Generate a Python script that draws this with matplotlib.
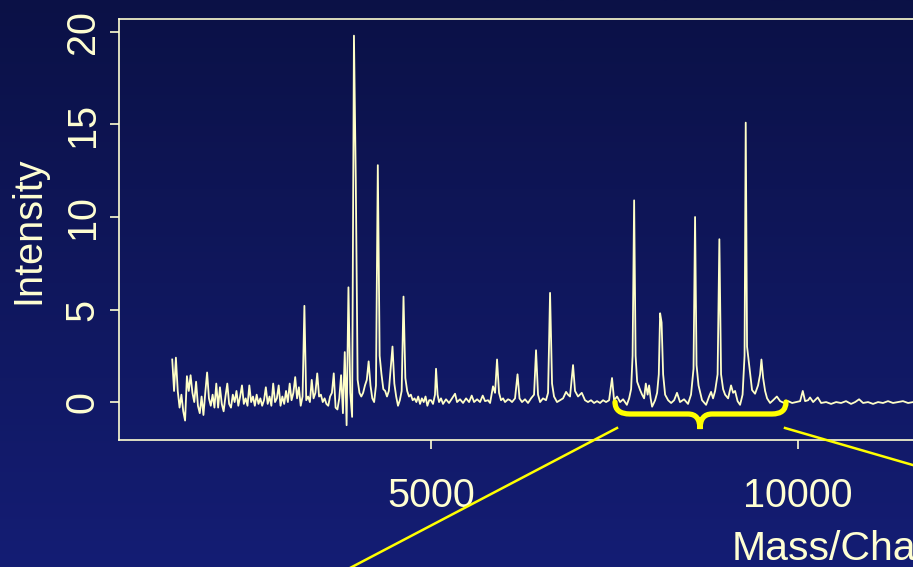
import matplotlib
matplotlib.use("Agg")
import matplotlib.pyplot as plt
import numpy as np
from matplotlib.path import Path
from matplotlib.patches import PathPatch
from matplotlib.lines import Line2D

# ------------------------------------------------------------------
# Spectrum values
# ------------------------------------------------------------------
# low-mass part: instrument grid of 25 Da, noisy
low_mz_start = 1475
low_mz_step = 25
low_intensity = [
    2.3, 0.6, 2.4, 0.6, -0.3, 0.4, -0.5, -1.0, 1.4, 0.6,
    1.45, 0.5, 0.0, 1.1, -0.2, -0.6, 0.3, -0.7, 0.5, 1.6,
    0.2, -0.2, 0.4, -0.3, 1.0, -0.3, 0.8, -0.1, -0.5, 0.3,
    1.0, -0.1, -0.3, 0.4, 0.0, 0.6, -0.2, 0.3, 0.9, -0.1,
    0.2, -0.2, 0.9, 0.0, 0.3, -0.2, 0.4, -0.1, 0.2, -0.2,
    0.1, 0.8, -0.1, 0.3, -0.2, 1.0, 0.0, 0.2, 0.9, -0.2,
    0.3, -0.1, 0.6, 0.0, 1.0, 0.1, 0.5, 1.35, 0.2, 0.8,
    -0.2, 0.3, 5.2, 0.1, 0.3, 0.0, 1.2, 0.2, 0.5, 1.55,
    0.3, 0.4, 0.0, 0.2, -0.1, -0.2, 0.3, 0.5, 1.55, -0.3,
    -0.4, 0.2, 1.45, -0.6, 2.7, -1.25, 6.2, 0.5, -0.8, 19.8,
    12.0, 1.2, 0.5, 0.3, 0.5, 0.9, 1.2, 2.2, 0.9, 0.2,
    0.0, 0.9, 12.8, 2.5, 1.5, 0.7, 0.6, 0.3, 0.6, 1.8,
    3.0, 1.0, 0.3, -0.2, 0.1, 0.6, 5.7, 1.3, 0.6, 0.3,
    0.4, 0.1, 0.2, 0.0, 0.3, -0.1, 0.2, 0.0, 0.3, -0.2,
    0.1,
]

# high-mass part: (m/z, intensity) pairs
high_mz = [
    5000, 5027, 5054, 5068, 5089, 5109, 5136, 5163, 5204, 5245,
    5286, 5327, 5354, 5395, 5436, 5477, 5518, 5554, 5586, 5627,
    5667, 5704, 5736, 5776, 5804, 5844, 5872, 5899, 5926, 5953,
    5981, 6008, 6049, 6076, 6103, 6144, 6178, 6205, 6239, 6280,
    6321, 6362, 6403, 6430, 6457, 6485, 6525, 6566, 6594, 6621,
    6648, 6675, 6716, 6757, 6798, 6839, 6866, 6893, 6934, 6961,
    7002, 7053, 7097, 7138, 7179, 7220, 7261, 7302, 7343, 7384,
    7425, 7465, 7493, 7534, 7575, 7616, 7667, 7698, 7725, 7745,
    7766, 7786, 7807, 7848, 7875, 7902, 7925, 7950, 7970, 7991,
    8011, 8052, 8079, 8102, 8120, 8140, 8161, 8188, 8229, 8270,
    8311, 8350, 8391, 8446, 8500, 8541, 8575, 8596, 8616, 8643,
    8691, 8746, 8787, 8814, 8841, 8869, 8903, 8927, 8950, 8978,
    9005, 9046, 9086, 9114, 9141, 9175, 9209, 9243, 9270, 9286,
    9304, 9345, 9372, 9413, 9454, 9482, 9500, 9523, 9550, 9577,
    9618, 9659, 9710, 9755, 9809, 9864, 9918, 9973, 10027, 10063,
    10095, 10136, 10162, 10204, 10267, 10313, 10381, 10449, 10517, 10585,
    10652, 10721, 10776, 10830, 10884, 10952, 11020, 11088, 11156, 11224,
    11292, 11360, 11428, 11497, 11565, 11660,
]
high_intensity = [
    0.1, -0.1, 0.4, 1.8, 0.4, 0.0, 0.2, -0.1, 0.15, -0.05,
    0.2, 0.45, 0.0, 0.15, -0.05, 0.2, 0.0, 0.35, 0.0, 0.15,
    0.0, 0.35, 0.05, 0.1, -0.05, 0.85, 0.5, 2.3, 0.5, 0.1,
    0.2, 0.0, 0.15, 0.1, 0.0, 0.2, 1.5, 0.2, 0.0, 0.15,
    -0.05, 0.2, 0.4, 2.8, 0.4, 0.0, 0.2, 0.1, 0.5, 5.9,
    1.0, 0.3, 0.0, 0.1, 0.2, 0.55, 0.4, 0.3, 2.0, 0.6,
    0.3, 0.5, 0.1, 0.0, 0.1, -0.05, 0.05, -0.05, 0.1, 0.0,
    0.1, 1.3, 0.1, 0.3, 0.0, 0.15, -0.15, 0.2, 0.7, 2.5,
    10.9, 2.5, 1.1, 0.65, 0.4, 0.2, 1.0, 0.4, 0.9, 0.2,
    -0.25, 0.1, 0.5, 1.5, 4.8, 4.3, 1.5, 0.4, 0.1, -0.05,
    0.1, 0.5, 0.0, 0.15, -0.1, 0.4, 1.8, 10.0, 2.0, 0.9,
    0.1, -0.15, 0.3, 0.55, 0.2, 0.6, 1.5, 8.8, 1.5, 0.7,
    0.4, 0.2, 0.9, 0.5, 0.6, 0.05, -0.15, 0.4, 2.5, 15.1,
    3.0, 1.6, 0.65, 0.45, 0.9, 1.5, 2.3, 1.3, 0.6, 0.2,
    -0.05, 0.1, 0.3, 0.05, -0.05, 0.05, -0.05, 0.0, 0.05, 0.6,
    0.05, 0.1, 0.25, 0.0, 0.25, -0.05, 0.0, -0.1, 0.0, -0.05,
    0.05, -0.1, 0.0, 0.15, -0.05, 0.0, -0.1, 0.0, -0.05, 0.05,
    -0.05, 0.0, 0.05, -0.05, 0.0, 0.05,
]

x_ticks = [5000, 10000]
y_ticks = [0, 5, 10, 15, 20]

W, H = 913, 567
TXT = "#ffffd2"
LINE = "#ffffc8"
YEL = "#ffff00"


def fx(px):
    return px / W


def fy(py):
    return 1 - py / H


low_mz = low_mz_start + low_mz_step * np.arange(len(low_intensity))
mz = np.concatenate([low_mz, high_mz])
intensity = np.concatenate([low_intensity, high_intensity])

plt.rcParams["font.family"] = ["Liberation Sans", "DejaVu Sans"]

fig = plt.figure(figsize=(W / 100, H / 100), dpi=100)

# slide background gradient
bg = fig.add_axes([0, 0, 1, 1], zorder=0)
grad = np.linspace(0, 1, 256)[:, None]
top = np.array([11, 17, 70]) / 255
bot = np.array([20, 29, 116]) / 255
img = top[None, None, :] * (1 - grad[:, :, None]) + bot[None, None, :] * grad[:, :, None]
bg.imshow(img, aspect="auto", extent=[0, 1, 0, 1])
bg.set_axis_off()

# main axes, right part runs off the slide
ax_left, ax_top, ax_bot = 119, 19, 440
ax_w = 1468
ax = fig.add_axes([fx(ax_left), fy(ax_bot), ax_w / W, (ax_bot - ax_top) / H], zorder=1)
ax.set_facecolor("none")
ax.plot(mz, intensity, color=LINE, linewidth=1.3)

ax.set_xlim(750, 750 + ax_w * 13.62)
ax.set_ylim(-2.05, 20.7)
ax.set_xticks(x_ticks)
ax.set_xticklabels([str(v) for v in x_ticks])
ax.set_yticks(y_ticks)
ax.set_yticklabels([str(v) for v in y_ticks], rotation=90, va="center")
for s in ax.spines.values():
    s.set_color(TXT)
    s.set_linewidth(1.2)
ax.tick_params(axis="both", colors=TXT, labelcolor=TXT, labelsize=28.5,
               length=6.5, width=1.2)
ax.tick_params(axis="x", pad=20)
ax.tick_params(axis="y", pad=6)

fig.text(fx(28), fy(230), "Intensity", rotation=90, ha="center", va="center",
         color=TXT, fontsize=28.5)
fig.text(fx(732), fy(560), "Mass/Charge", ha="left", va="baseline",
         color=TXT, fontsize=29.5)

# yellow brace under the 7500-9800 cluster, with zoom lines
pts = [(615, 402), (615, 414), (630, 414), (688, 414), (700, 414), (700, 429),
       (700, 414), (712, 414), (772, 414), (786, 414), (786, 402)]
codes = [Path.MOVETO, Path.CURVE3, Path.CURVE3, Path.LINETO, Path.CURVE3, Path.CURVE3,
         Path.CURVE3, Path.CURVE3, Path.LINETO, Path.CURVE3, Path.CURVE3]
brace = Path([(fx(x), fy(y)) for x, y in pts], codes)
fig.patches.append(PathPatch(brace, transform=fig.transFigure, facecolor="none",
                             edgecolor=YEL, linewidth=3.8, capstyle="round", zorder=3))
fig.lines.append(Line2D([fx(617), fx(350)], [fy(428), fy(568)], transform=fig.transFigure,
                        color=YEL, linewidth=1.8, zorder=3))
fig.lines.append(Line2D([fx(785), fx(930)], [fy(428), fy(470)], transform=fig.transFigure,
                        color=YEL, linewidth=1.8, zorder=3))

fig.savefig("out.png", dpi=100)
